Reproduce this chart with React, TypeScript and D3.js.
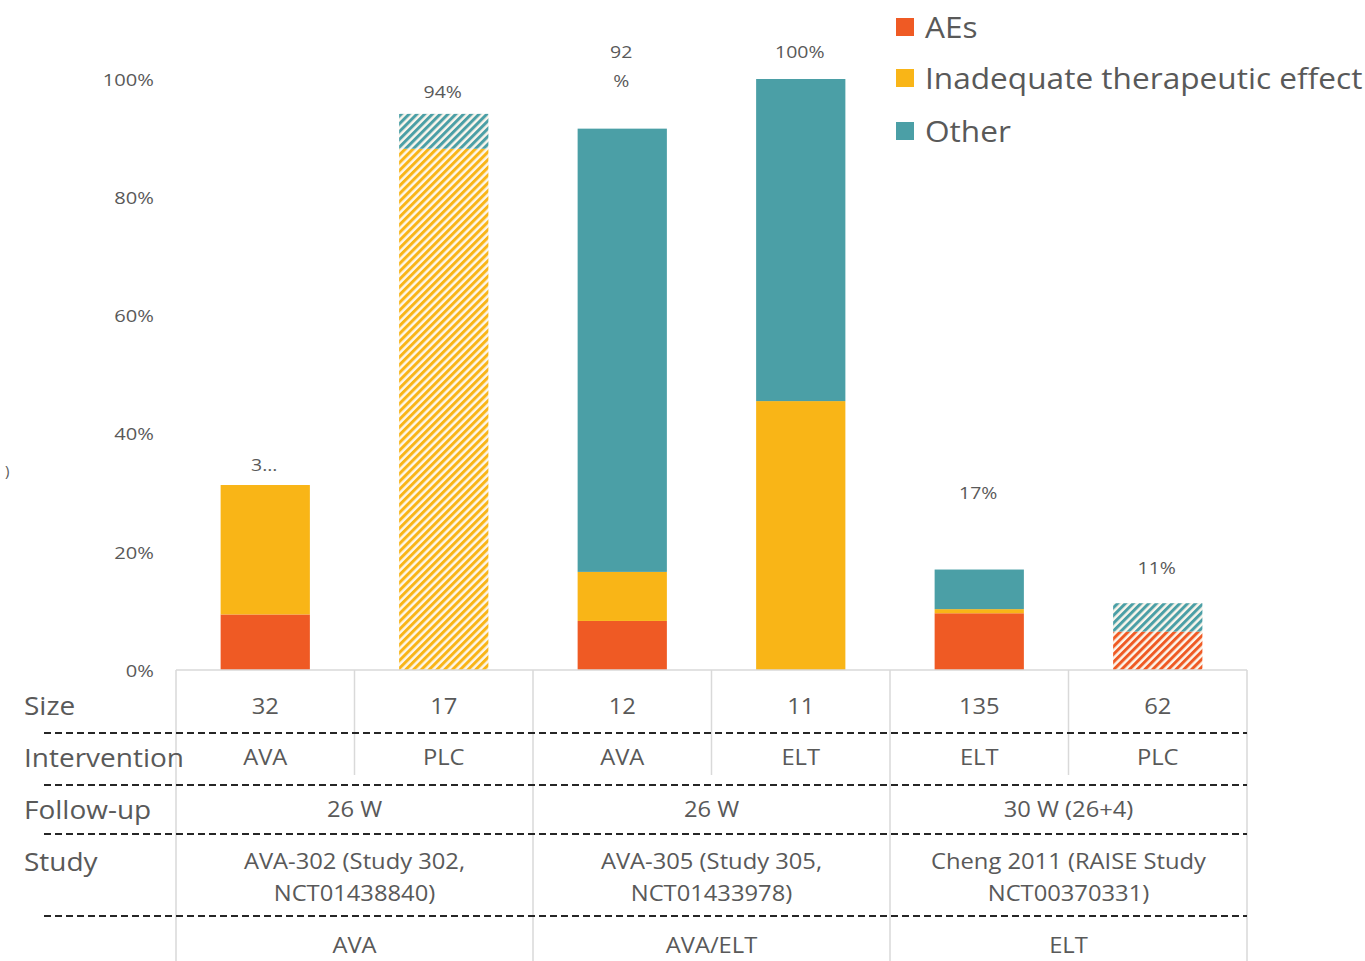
import React from "react";
import * as d3 from "d3";

const sizes = ["32", "17", "12", "11", "135", "62"];
const interventions = ["AVA", "PLC", "AVA", "ELT", "ELT", "PLC"];
const aes = [9.4, 0, 8.3, 0, 9.6, 6.5];
const inadequate = [21.9, 88.2, 8.3, 45.5, 0.7, 0];
const other = [0, 5.9, 75.0, 54.5, 6.7, 4.8];
const hatched = [false, true, false, false, false, true];
const totalLabels = [["3..."], ["94%"], ["92", "%"], ["100%"], ["17%"], ["11%"]];
const labelAt = [34.7, 97.8, 104.7, 104.7, 30.1, 17.4];
const yTicks = [0, 20, 40, 60, 80, 100];
const followUps = ["26 W", "26 W", "30 W (26+4)"];
const studies = [
  ["AVA-302 (Study 302,", "NCT01438840)"],
  ["AVA-305 (Study 305,", "NCT01433978)"],
  ["Cheng 2011 (RAISE Study", "NCT00370331)"],
];
const groups = ["AVA", "AVA/ELT", "ELT"];
const seriesNames = ["AEs", "Inadequate therapeutic effect", "Other"];
const seriesColors = ["#EF5A24", "#F9B517", "#4B9FA6"];

const FONT = "'Open Sans', sans-serif";
const GRAY = "#595959";

function T(props: { x: number; y: number; s: number; sx?: number; anchor?: string; children: any }) {
  const { x, y, s, sx = 1, anchor = "start", children } = props;
  return (
    <text
      transform={`translate(${x},${y}) scale(${sx},1)`}
      textAnchor={anchor}
      dominantBaseline="central"
      fontSize={s}
      fill={GRAY}
    >
      {children}
    </text>
  );
}

export default function App() {
  const idx = d3.range(sizes.length);
  const x = d3.scaleBand<number>().domain(idx).range([176, 1247]).padding(0);
  const bw = x.bandwidth();
  const barW = bw * 0.5;
  const y = d3.scaleLinear().domain([0, 100]).range([670, 79]);
  const rows = idx.map((i) => ({ i, s0: aes[i], s1: inadequate[i], s2: other[i] }));
  const stack = d3.stack<any>().keys(["s0", "s1", "s2"])(rows);

  const pairX = (k: number) => x(2 * k)! + bw;
  const dashYs = [733, 785, 834, 916];

  return (
    <svg
      width={1365}
      height={961}
      style={{ position: "absolute", left: 0, top: 0, background: "#fff" }}
      fontFamily={FONT}
    >
      <defs>
        {seriesColors.map((c, k) => (
          <pattern
            key={k}
            id={`hatch${k}`}
            patternUnits="userSpaceOnUse"
            width={5.5}
            height={5.5}
            patternTransform="rotate(45)"
          >
            <rect width={5.5} height={5.5} fill="#FCF6EC" />
            <rect x={0} y={0} width={3} height={5.5} fill={c} />
          </pattern>
        ))}
      </defs>

      {yTicks.map((t) => (
        <T key={t} x={154} y={y(t)} s={16.5} sx={1.22} anchor="end">
          {t}%
        </T>
      ))}
      <T x={5} y={470} s={15}>)</T>

      {stack.map((layer, k) =>
        layer.map((d, i) => {
          const h = y(d[0]) - y(d[1]);
          if (h <= 0) return null;
          return (
            <rect
              key={`${k}-${i}`}
              x={x(i)! + (bw - barW) / 2}
              y={y(d[1])}
              width={barW}
              height={h}
              fill={hatched[i] ? `url(#hatch${k})` : seriesColors[k]}
            />
          );
        })
      )}

      {idx.map((i) =>
        totalLabels[i].map((line, j) => (
          <T key={`${i}-${j}`} x={x(i)! + bw / 2 - 1} y={y(labelAt[i]) + j * 29} s={16.5} sx={1.18} anchor="middle">
            {line}
          </T>
        ))
      )}

      <line x1={176} x2={1247} y1={670} y2={670} stroke="#D9D9D9" strokeWidth={1.5} />
      {idx.concat([6]).map((i) => {
        const xx = i < 6 ? x(i)! : 1247;
        const full = i % 2 === 0;
        return <line key={i} x1={xx} x2={xx} y1={670} y2={full ? 961 : 775} stroke="#D9D9D9" strokeWidth={1.5} />;
      })}
      {dashYs.map((yy) => (
        <line key={yy} x1={44} x2={1247} y1={yy} y2={yy} stroke="#262626" strokeWidth={2} strokeDasharray="7,4" />
      ))}

      {[
        ["Size", 706],
        ["Intervention", 758],
        ["Follow-up", 810],
        ["Study", 862],
      ].map(([t, yy]) => (
        <T key={t as string} x={24} y={yy as number} s={25} sx={1.12}>
          {t}
        </T>
      ))}

      {idx.map((i) => (
        <g key={i}>
          <T x={x(i)! + bw / 2} y={706} s={22} sx={1.08} anchor="middle">{sizes[i]}</T>
          <T x={x(i)! + bw / 2} y={757} s={22} sx={1.08} anchor="middle">{interventions[i]}</T>
        </g>
      ))}
      {followUps.map((f, k) => (
        <T key={k} x={pairX(k)} y={809} s={22} sx={1.08} anchor="middle">{f}</T>
      ))}
      {studies.map((s, k) =>
        s.map((line, j) => (
          <T key={`${k}-${j}`} x={pairX(k)} y={861 + j * 32} s={22} sx={1.08} anchor="middle">{line}</T>
        ))
      )}
      {groups.map((g, k) => (
        <T key={k} x={pairX(k)} y={945} s={22} sx={1.08} anchor="middle">{g}</T>
      ))}

      {seriesNames.map((n, k) => {
        const ly = [27, 78, 131][k];
        return (
          <g key={n}>
            <rect x={896} y={ly - 9} width={18} height={18} fill={seriesColors[k]} />
            <T x={925} y={ly} s={29} sx={1.09}>{n}</T>
          </g>
        );
      })}
    </svg>
  );
}
